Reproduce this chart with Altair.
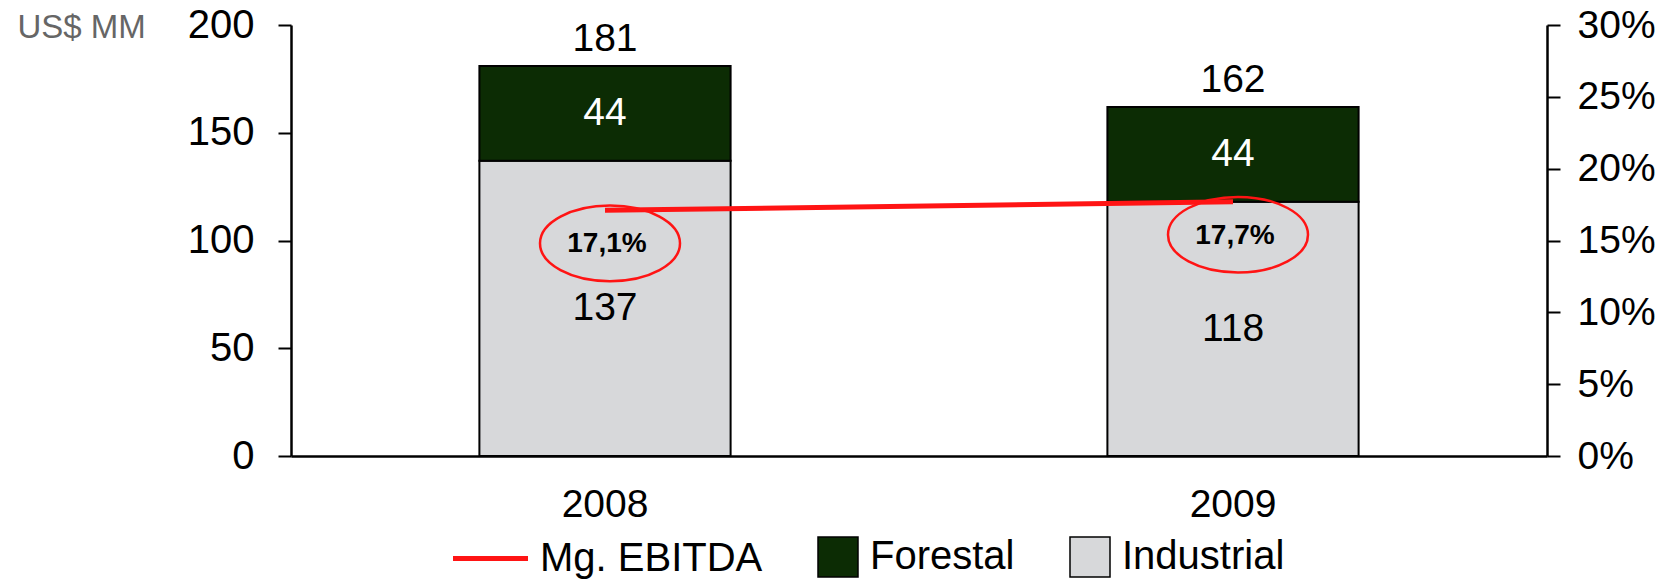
import altair as alt
import pandas as pd

years = ["2008", "2009"]
industrial = [137, 118]
forestal = [44, 44]
margin = [0.171, 0.177]
margin_labels = ["17,1%", "17,7%"]
series_names = ["Mg. EBITDA", "Forestal", "Industrial"]
series_colors = ["#FF1414", "#0C2C04", "#D7D8DA"]
left_ticks = [0, 50, 100, 150, 200]
right_ticks = [0, 0.05, 0.10, 0.15, 0.20, 0.25, 0.30]

FONT = "Liberation Sans"
RED = "#FF1414"
ELLIPSE = "M-1,0A1,0.54,0,1,0,1,0A1,0.54,0,1,0,-1,0Z"
LINE_SYM = "M-2.75,-0.125H1V0.125H-2.75Z"

rows = []
for i, yr in enumerate(years):
    rows.append(dict(year=yr, series="Industrial", lower=0, upper=industrial[i]))
    rows.append(dict(year=yr, series="Forestal", lower=industrial[i],
                     upper=industrial[i] + forestal[i]))
bars_df = pd.DataFrame(rows)
bars_df["value"] = bars_df["upper"] - bars_df["lower"]
bars_df["mid"] = (bars_df["lower"] + bars_df["upper"]) / 2
tot_df = pd.DataFrame(dict(year=years, total=[a + b for a, b in zip(industrial, forestal)]))
m_df = pd.DataFrame(dict(year=years, margin=margin, label=margin_labels))

x_enc = alt.X(
    "year:N",
    scale=alt.Scale(domain=years, paddingInner=0.6, paddingOuter=0.3),
    axis=alt.Axis(title=None, ticks=False, labelPadding=29, labelFontSize=39,
                  labelFont=FONT, labelColor="black", labelAngle=0,
                  domainColor="black", domainWidth=2.5, grid=False),
)
y_left_scale = alt.Scale(domain=[0, 200], nice=False)
y_right_scale = alt.Scale(domain=[0, 0.3], nice=False)

legend = alt.Legend(
    title=None, orient="none", legendX=197, legendY=512, direction="horizontal",
    symbolSize=1600,
    symbolType=alt.ExprRef(expr="datum.value === 'Mg. EBITDA' ? '" + LINE_SYM + "' : 'square'"),
    symbolStrokeColor="black",
    symbolStrokeWidth=alt.ExprRef(expr="datum.value === 'Mg. EBITDA' ? 0 : 1.5"),
    symbolOpacity=1, labelFontSize=40, labelFont=FONT,
    labelColor="black", labelOffset=12, columnPadding=52, padding=0, labelLimit=400,
)

bars = alt.Chart(bars_df).mark_bar(stroke="black", strokeWidth=2).encode(
    x=x_enc,
    y=alt.Y("lower:Q", scale=y_left_scale,
            axis=alt.Axis(orient="left", values=left_ticks, tickSize=13, tickWidth=2,
                          tickColor="black", labelPadding=24, labelFontSize=40,
                          labelFont=FONT, labelColor="black", domainColor="black",
                          domainWidth=2.5, grid=False, title="US$ MM", titleAngle=0,
                          titleX=-274, titleY=12, titleAlign="left",
                          titleBaseline="alphabetic", titleFontSize=33, titleFont=FONT,
                          titleColor="#666666", titleFontWeight="normal")),
    y2="upper:Q",
    color=alt.Color("series:N", scale=alt.Scale(domain=series_names, range=series_colors),
                    legend=legend),
)

txt_ind = alt.Chart(bars_df).transform_filter(alt.datum.series == "Industrial").mark_text(
    fontSize=39, font=FONT, color="black", baseline="middle").encode(
    x="year:N", y=alt.Y("mid:Q", scale=y_left_scale, axis=None), text="value:Q")

txt_for = alt.Chart(bars_df).transform_filter(alt.datum.series == "Forestal").mark_text(
    fontSize=39, font=FONT, color="white", baseline="middle").encode(
    x="year:N", y=alt.Y("mid:Q", scale=y_left_scale, axis=None), text="value:Q")

txt_tot = alt.Chart(tot_df).mark_text(
    fontSize=39, font=FONT, color="black", baseline="alphabetic", dy=-15).encode(
    x="year:N", y=alt.Y("total:Q", scale=y_left_scale, axis=None), text="total:Q")

line = alt.Chart(m_df).mark_line(color=RED, strokeWidth=5).encode(
    x="year:N",
    y=alt.Y("margin:Q", scale=y_right_scale,
            axis=alt.Axis(orient="right", values=right_ticks, format=".0%", tickSize=13,
                          tickWidth=2, tickColor="black", labelPadding=17,
                          labelFontSize=39, labelFont=FONT, labelColor="black",
                          domainColor="black", domainWidth=2.5, grid=False, title=None)),
)

ell = alt.Chart(m_df).mark_point(shape=ELLIPSE, size=19600, filled=False, stroke=RED,
                                 strokeWidth=2.5, opacity=1, xOffset=5, yOffset=33).encode(
    x="year:N", y=alt.Y("margin:Q", scale=y_right_scale, axis=None))

pct = alt.Chart(m_df).mark_text(fontSize=28, font=FONT, fontWeight="bold", color="black",
                                baseline="middle", dy=34, dx=2).encode(
    x="year:N", y=alt.Y("margin:Q", scale=y_right_scale, axis=None), text="label:N")

chart = alt.layer(bars, txt_ind, txt_for, txt_tot, line, ell, pct).resolve_scale(
    y="independent").properties(
    width=1256, height=431,
    autosize=alt.AutoSizeParams(type="none"),
    padding={"left": 283, "top": 17, "right": 119, "bottom": 125},
).configure(font=FONT).configure_view(strokeWidth=0)

chart.save("out.html", embed_options={"renderer": "svg", "actions": False})
